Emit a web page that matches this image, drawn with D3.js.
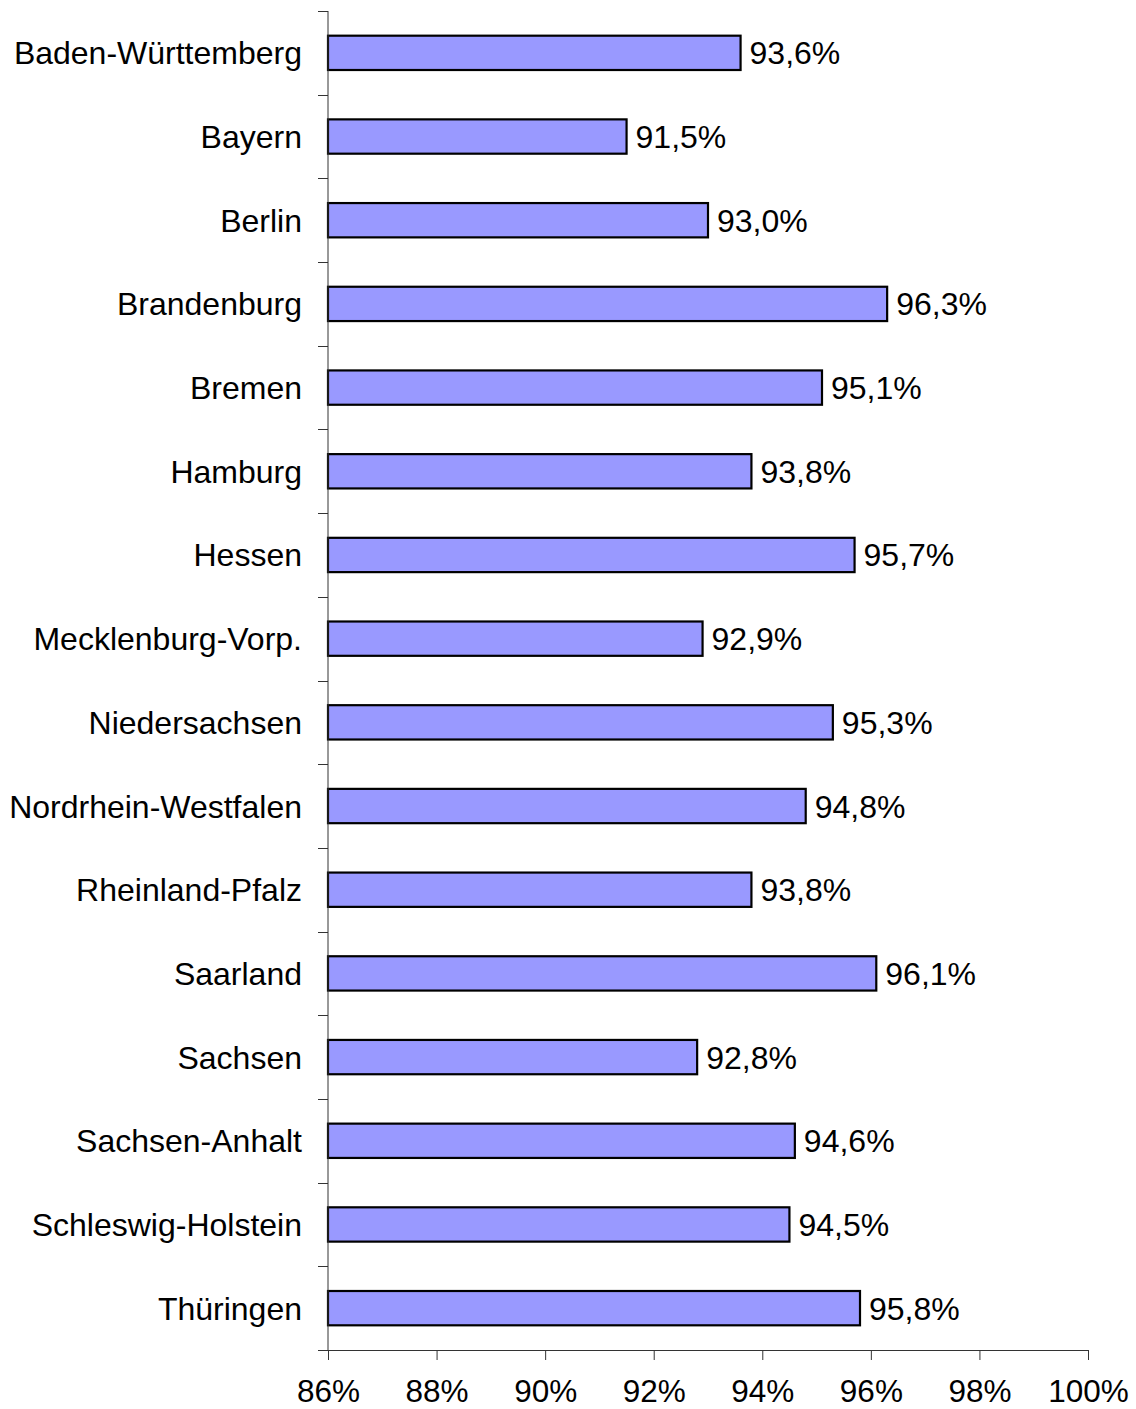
<!DOCTYPE html>
<html>
<head>
<meta charset="utf-8">
<script src="https://cdn.jsdelivr.net/npm/d3@7"></script>
<style>
  body { margin: 0; background: #fff; }
  text { font-family: "Liberation Sans", Arial, sans-serif; fill: #000; }
</style>
</head>
<body>
<div id="chart"></div>
<script>
const states = [
  'Baden-Württemberg', 'Bayern', 'Berlin', 'Brandenburg', 'Bremen', 'Hamburg',
  'Hessen', 'Mecklenburg-Vorp.', 'Niedersachsen', 'Nordrhein-Westfalen',
  'Rheinland-Pfalz', 'Saarland', 'Sachsen', 'Sachsen-Anhalt',
  'Schleswig-Holstein', 'Thüringen'
];
const shares = [93.6, 91.5, 93.0, 96.3, 95.1, 93.8, 95.7, 92.9, 95.3, 94.8, 93.8, 96.1, 92.8, 94.6, 94.5, 95.8];
const xTicks = [86, 88, 90, 92, 94, 96, 98, 100];

const width = 1136, height = 1409;
const plotLeft = 328, plotRight = 1088, plotTop = 11, plotBottom = 1350;
const fmt = v => v.toFixed(1).replace('.', ',') + '%';

const svg = d3.select('#chart').append('svg')
  .attr('width', width)
  .attr('height', height);

const x = d3.scaleLinear().domain([86, 100]).range([plotLeft, plotRight]);

const padIn = 0.59;
const y = d3.scaleBand().domain(states).range([plotTop, plotBottom])
  .paddingInner(padIn).paddingOuter(padIn / 2);

// bars
svg.selectAll('rect.bar')
  .data(states)
  .enter()
  .append('rect')
  .attr('class', 'bar')
  .attr('x', x(86))
  .attr('y', d => y(d))
  .attr('width', (d, i) => x(shares[i]) - x(86))
  .attr('height', y.bandwidth())
  .attr('fill', '#9999ff')
  .attr('stroke', '#000')
  .attr('stroke-width', 2.2);

// value labels
svg.selectAll('text.val')
  .data(states)
  .enter()
  .append('text')
  .attr('class', 'val')
  .attr('x', (d, i) => x(shares[i]) + 9)
  .attr('y', d => y(d) + y.bandwidth() / 2)
  .attr('dy', '0.36em')
  .attr('font-size', 32)
  .text((d, i) => fmt(shares[i]));

// category labels
svg.selectAll('text.cat')
  .data(states)
  .enter()
  .append('text')
  .attr('class', 'cat')
  .attr('x', plotLeft - 26)
  .attr('y', d => y(d) + y.bandwidth() / 2)
  .attr('dy', '0.36em')
  .attr('text-anchor', 'end')
  .attr('font-size', 32)
  .text(d => d);

// y axis with ticks on category boundaries
const step = y.step();
const boundaries = states.map(d => y(d) - step * padIn / 2).concat([plotBottom]);
svg.append('line')
  .attr('x1', plotLeft).attr('x2', plotLeft)
  .attr('y1', plotTop).attr('y2', plotBottom)
  .attr('stroke', '#333');
svg.selectAll('line.ytick')
  .data(boundaries)
  .enter()
  .append('line')
  .attr('class', 'ytick')
  .attr('x1', plotLeft - 10).attr('x2', plotLeft)
  .attr('y1', d => Math.round(d) + 0.5).attr('y2', d => Math.round(d) + 0.5)
  .attr('stroke', '#333');

// x axis
const xAxis = svg.append('g')
  .attr('transform', `translate(0,${plotBottom})`)
  .call(d3.axisBottom(x).tickValues(xTicks).tickSize(10).tickPadding(20)
    .tickFormat(d => d + '%'));
xAxis.select('.domain').attr('stroke', '#333');
xAxis.selectAll('.tick line').attr('stroke', '#333');
xAxis.selectAll('.tick text')
  .attr('font-size', 31.5)
  .attr('font-family', '"Liberation Sans", Arial, sans-serif')
  .attr('fill', '#000');
</script>
</body>
</html>
